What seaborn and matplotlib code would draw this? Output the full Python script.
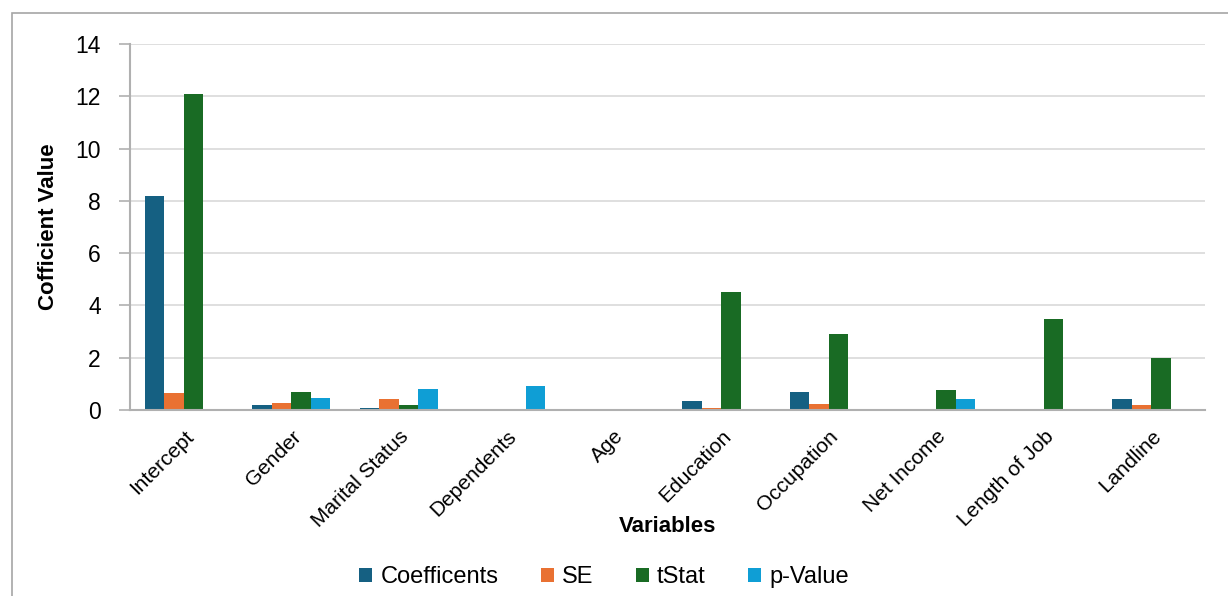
import matplotlib
matplotlib.use("Agg")
import matplotlib.pyplot as plt
from matplotlib.patches import Rectangle
import seaborn as sns
import pandas as pd

variables = ["Intercept", "Gender", "Marital Status", "Dependents", "Age",
             "Education", "Occupation", "Net Income", "Length of Job", "Landline"]
coefficients = [8.19, 0.19, 0.07, 0.00, 0.00, 0.33, 0.69, 0.00, 0.05, 0.41]
se = [0.65, 0.27, 0.42, 0.05, 0.00, 0.06, 0.24, 0.00, 0.00, 0.19]
tstat = [12.09, 0.70, 0.19, 0.00, 0.00, 4.51, 2.91, 0.76, 3.48, 1.99]
pvalue = [0.00, 0.45, 0.82, 0.90, 0.05, 0.00, 0.00, 0.43, 0.00, 0.05]
series = ["Coefficents", "SE", "tStat", "p-Value"]
colors = ["#156082", "#E97132", "#196B24", "#0F9ED5"]

rows = []
for name, vals in zip(series, [coefficients, se, tstat, pvalue]):
    for var, v in zip(variables, vals):
        rows.append({"Variable": var, "Series": name, "Value": v})
df = pd.DataFrame(rows)

sns.set_theme(style="white")
plt.rcParams["font.family"] = ["Liberation Sans", "DejaVu Sans"]
plt.rcParams["text.color"] = "black"
plt.rcParams["axes.labelcolor"] = "black"
plt.rcParams["xtick.color"] = "black"
plt.rcParams["ytick.color"] = "black"

fig = plt.figure(figsize=(12.28, 5.96), dpi=100)
ax = fig.add_axes([130 / 1228, 1 - 410 / 596, 1075 / 1228, 366 / 596])

sns.barplot(data=df, x="Variable", y="Value", hue="Series", order=variables,
            hue_order=series, palette=colors, width=0.73, linewidth=0,
            saturation=1, ax=ax, legend=True)

ax.set_ylim(0, 14)
ax.set_yticks(range(0, 15, 2))
ax.set_xlim(-0.5, len(variables) - 0.5)
ax.yaxis.grid(True, color="#d9d9d9", linewidth=1.2)
ax.set_axisbelow(True)
for side in ["top", "right"]:
    ax.spines[side].set_visible(False)
for side in ["left", "bottom"]:
    ax.spines[side].set_color("#b0b0b0")
    ax.spines[side].set_linewidth(1.5)
ax.tick_params(axis="y", which="major", left=True, length=8, color="#b0b0b0",
               width=1.2, labelsize=16.5, pad=13, labelcolor="black")
ax.tick_params(axis="x", bottom=False, length=0, labelsize=15, pad=12,
               labelcolor="black")
plt.setp(ax.get_xticklabels(), rotation=45, ha="right", rotation_mode="anchor")

ax.set_xlabel("Variables", fontsize=16, fontweight="bold", labelpad=0,
              color="black")
ax.set_ylabel("Cofficient Value", fontsize=16, fontweight="bold", labelpad=12,
              color="black")
ax.xaxis.set_label_coords(0.5, -(516 - 410) / 366)

handles, labels = ax.get_legend_handles_labels()
ax.legend_.remove()
fig.legend(handles, labels, loc="center",
           bbox_to_anchor=(604 / 1228, 1 - 577 / 596),
           ncol=4, frameon=False, fontsize=17, handlelength=0.55,
           handleheight=0.55, handletextpad=0.34, columnspacing=1.8)

fig.patches.append(Rectangle((12 / 1228, -0.05), 1.0, 1 - 13 / 596 + 0.05,
                             transform=fig.transFigure, fill=False,
                             edgecolor="#a6a6a6", linewidth=1.2))

fig.savefig("out.png", dpi=100)
